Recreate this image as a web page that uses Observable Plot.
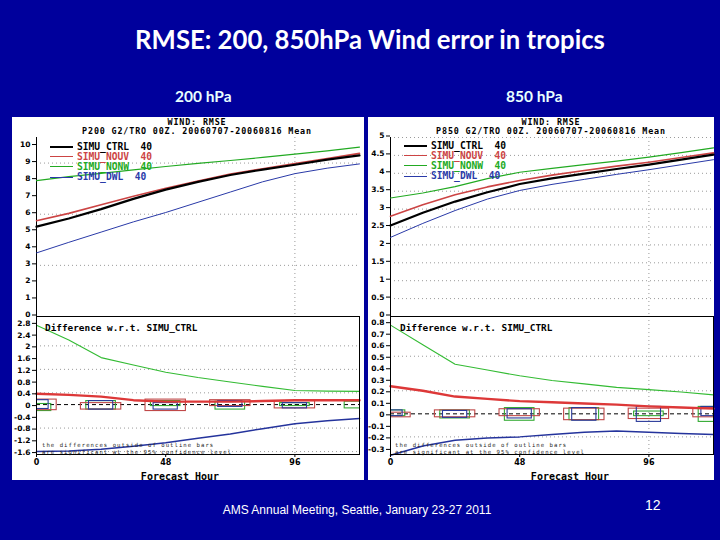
<!DOCTYPE html>
<html><head><meta charset="utf-8">
<script src="https://cdn.jsdelivr.net/npm/d3@7"></script>
<script src="https://cdn.jsdelivr.net/npm/@observablehq/plot@0.6"></script>
<style>
html,body{margin:0;padding:0}
body{width:720px;height:540px;background:#00009c;position:relative;overflow:hidden;font-family:"DejaVu Sans Mono",monospace}
.a{position:absolute;white-space:pre}
#title{left:0;width:740px;top:24px;text-align:center;color:#fff;font:bold 25.7px Lato,sans-serif}
.sub{top:87px;color:#e8ffff;font:bold 15.5px Lato,sans-serif}
.panel{background:#fff;top:117px;height:363px}
.ptitle{font-weight:bold;font-size:8.4px;letter-spacing:0.85px;line-height:1;transform:translateX(-50%)}
.leg{font-size:9.6px;font-weight:bold;line-height:1}
.note{font-size:5.6px;letter-spacing:1.05px;line-height:1;color:#222}
.diff{font-size:9.4px;font-weight:bold;line-height:1}
.fh{font-weight:bold;font-size:10px;line-height:1;transform:translateX(-50%)}
#footer{left:0;width:714px;text-align:center;top:503px;color:#fff;font:12px "Liberation Sans Narrow","Liberation Sans",sans-serif}
#page{left:645px;top:497px;color:#fff;font:14px "Liberation Sans Narrow","Liberation Sans",sans-serif}
.plot{position:absolute}
</style></head>
<body>
<div id="title" class="a">RMSE: 200, 850hPa Wind error in tropics</div>
<div class="a sub" style="left:175px">200 hPa</div>
<div class="a sub" style="left:506px">850 hPa</div>
<div class="a panel" style="left:12px;width:352px"></div>
<div class="a panel" style="left:368px;width:346px"></div>
<div id="overlay"></div>
<div id="footer" class="a">AMS Annual Meeting, Seattle, January 23-27 2011</div>
<div id="page" class="a">12</div>
<script>
// ---------- data ----------
const hours = [0,12,24,36,48,60,72,84,96,108,120];
const seriesNames = ["SIMU_CTRL","SIMU_NOUV","SIMU_NONW","SIMU_DWL"];
const sampleCount = "40";

// 200 hPa RMSE
const ctrl200 = [5.27,5.75,6.3,6.9,7.44,7.9,8.3,8.62,8.9,9.2,9.45];
const nouv200 = [5.62,6.05,6.55,7.05,7.52,7.95,8.35,8.67,8.97,9.27,9.57];
const nonw200 = [7.97,8.2,8.4,8.6,8.8,8.98,9.15,9.33,9.52,9.72,9.94];
const dwl200  = [3.73,4.35,4.95,5.55,6.1,6.7,7.3,7.9,8.38,8.7,8.95];
// 200 hPa difference w.r.t. CTRL
const dNouv200 = [0.37,0.33,0.27,0.15,0.1,0.1,0.1,0.12,0.15,0.15,0.15];
const dNonw200 = [2.7,2.2,1.6,1.35,1.1,0.92,0.77,0.62,0.48,0.46,0.45];
const dDwl200  = [-1.6,-1.58,-1.52,-1.42,-1.3,-1.15,-1.0,-0.82,-0.65,-0.55,-0.47];

// 850 hPa RMSE
const ctrl850 = [2.54,2.9,3.21,3.47,3.7,3.86,3.99,4.12,4.24,4.38,4.52];
const nouv850 = [2.8,3.12,3.4,3.62,3.8,3.95,4.08,4.2,4.31,4.44,4.57];
const nonw850 = [3.31,3.45,3.63,3.85,4.03,4.14,4.24,4.34,4.45,4.58,4.71];
const dwl850  = [2.21,2.6,2.96,3.28,3.52,3.69,3.83,3.97,4.1,4.24,4.38];
// 850 hPa difference w.r.t. CTRL
const dNouv850 = [0.24,0.2,0.15,0.13,0.11,0.1,0.09,0.08,0.065,0.055,0.045];
const dNonw850 = [0.77,0.6,0.43,0.38,0.33,0.29,0.26,0.23,0.21,0.19,0.165];
const dDwl850  = [-0.36,-0.28,-0.23,-0.21,-0.2,-0.18,-0.16,-0.15,-0.16,-0.17,-0.18];

// significance bars (outline boxes) every 24 h
const boxHours = [0,24,48,72,96,120];
const gLo200 = [-0.22,-0.17,-0.05,-0.17,-0.05,-0.13], gHi200 = [0.02,0.12,0.12,0.1,0.05,0.1];
const rLo200 = [-0.19,-0.17,-0.22,-0.05,-0.13,null], rHi200 = [0.17,0.05,0.17,0.15,0.12,null];
const bLo200 = [-0.15,-0.17,-0.17,-0.08,-0.13,null], bHi200 = [0.15,0.12,0.05,0.12,0.05,null];
const gLo850 = [-0.02,-0.04,-0.06,-0.055,-0.02,-0.07], gHi850 = [0.03,0.03,0.05,0.05,0.02,0.06];
const rLo850 = [-0.03,-0.03,-0.02,-0.055,-0.045,-0.03], rHi850 = [0.01,0.03,0.04,0.045,0.045,0.05];
const bLo850 = [-0.02,-0.035,-0.04,-0.06,-0.07,-0.02], bHi850 = [0.03,0.025,0.04,0.05,0.06,0.06];

// axis ticks
const xTicks = [0,48,96];
const yTicksU200 = [0,1,2,3,4,5,6,7,8,9,10];
const yTicksL200 = [-1.6,-1.2,-0.8,-0.4,0,0.4,0.8,1.2,1.6,2,2.4,2.8];
const yTicksU850 = [0,0.5,1,1.5,2,2.5,3,3.5,4,4.5,5];
const yTicksL850 = [-0.3,-0.2,-0.1,0,0.1,0.2,0.3,0.4,0.5,0.6,0.7,0.8];
const gridU200 = [3,6,9], gridL200 = [2,1.2,0.4,-0.8,-1.6];
const gridU850 = [0.5,1,1.5,2,2.5,3,3.5,4,4.5,5], gridL850 = [0.5,0.2,-0.2];
const gridX = [96];

// ---------- styles ----------
const C = {ctrl:"#000000", nouv:"#cc4444", nonw:"#22aa22", dwl:"#2a3aa8"};
const legendColors = [C.ctrl, C.nouv, C.nonw, C.dwl];
const legendWidths = [2.4, 1.4, 1.2, 1];

const rows = arr => hours.map((h,i)=>({hour:h, value:arr[i]}));
const boxes = (lo,hi) => boxHours.map((h,i)=>({hour:h, lo:lo[i], hi:hi[i]})).filter(d=>d.lo!=null);
const fmt = d => String(d);
const gridStyle = {stroke:"#9a9a9a", strokeOpacity:1, strokeDasharray:"1,3", strokeWidth:1};

function upper(o){
  return Plot.plot({
    width:o.width, height:199, marginLeft:o.mL, marginRight:o.mR, marginTop:20, marginBottom:0,
    x:{domain:[0,120], axis:null}, y:{domain:o.yDomain, axis:null},
    style:{background:"transparent", overflow:"visible", fontFamily:"DejaVu Sans", color:"black"},
    marks:[
      Plot.gridY(o.grid, gridStyle),
      Plot.gridX(gridX, gridStyle),
      Plot.ruleX([0], {stroke:"black"}),
      Plot.axisY(o.yTicks, {tickSize:4, tickPadding:2, fontSize:7.5, fontWeight:"bold", tickFormat:fmt, label:null, dy:-1.5}),
      Plot.line(rows(o.dwl), {x:"hour", y:"value", stroke:C.dwl, strokeWidth:1}),
      Plot.line(rows(o.nonw), {x:"hour", y:"value", stroke:C.nonw, strokeWidth:1.2}),
      Plot.line(rows(o.nouv), {x:"hour", y:"value", stroke:C.nouv, strokeWidth:1.6}),
      Plot.line(rows(o.ctrl), {x:"hour", y:"value", stroke:C.ctrl, strokeWidth:2.2}),
    ]
  });
}
function lower(o){
  const bx = (lo,hi,half,color) => Plot.rect(boxes(lo,hi), {x1:d=>d.hour-half, x2:d=>d.hour+half, y1:"lo", y2:"hi", fill:"none", stroke:color, strokeWidth:1.1, clip:true});
  return Plot.plot({
    width:o.width, height:164, marginLeft:o.mL, marginRight:o.mR, marginTop:0, marginBottom:26,
    x:{domain:[0,120], axis:null}, y:{domain:o.yDomain, axis:null},
    style:{background:"transparent", overflow:"visible", fontFamily:"DejaVu Sans", color:"black"},
    marks:[
      Plot.gridY(o.grid, gridStyle),
      Plot.gridX(gridX, gridStyle),
      Plot.ruleY([0], {stroke:"black", strokeDasharray:"4,3"}),
      bx(o.gLo,o.gHi,5.5,"#33aa33"),
      bx(o.rLo,o.rHi,7.5,"#c04848"),
      bx(o.bLo,o.bHi,4.5,"#2a3a9a"),
      Plot.line(rows(o.nonw), {x:"hour", y:"value", stroke:"#33bb33", strokeWidth:1.1}),
      Plot.line(rows(o.nouv), {x:"hour", y:"value", stroke:"#dd3838", strokeWidth:2.4}),
      Plot.line(rows(o.dwl), {x:"hour", y:"value", stroke:"#24339c", strokeWidth:1.5}),
      Plot.frame({stroke:"black"}),
      Plot.axisY(o.yTicks, {tickSize:4, tickPadding:2, fontSize:7.5, fontWeight:"bold", tickFormat:fmt, label:null, dy:1}),
      Plot.axisX(xTicks, {tickSize:3, tickPadding:2, fontSize:8, fontWeight:"bold", tickFormat:fmt, label:null}),
    ]
  });
}
function place(node, left, top, width){
  const d = document.createElement("div");
  d.className = "plot"; d.style.left = left+"px"; d.style.top = top+"px"; d.style.width = width+"px";
  d.appendChild(node); document.getElementById("overlay").appendChild(d);
}
function text(str, cls, left, top, color){
  const d = document.createElement("div");
  d.className = "a "+cls; d.textContent = str; d.style.left = left+"px"; d.style.top = top+"px";
  if (color) d.style.color = color;
  document.getElementById("overlay").appendChild(d);
}
function legend(lineX, textX, top){
  seriesNames.forEach((n,i)=>{
    const l = document.createElement("div");
    l.className = "a";
    const w = legendWidths[i];
    Object.assign(l.style, {left:lineX+"px", top:(top+10*i - w/2)+"px", width:"23px", height:"0px", borderTop:w+"px solid "+legendColors[i]});
    document.getElementById("overlay").appendChild(l);
    text(n+"  "+sampleCount, "leg", textX, top+10*i-5, legendColors[i]);
  });
}

// ---------- 200 hPa ----------
place(upper({width:352, mL:24, mR:5, yDomain:[0,10.5], yTicks:yTicksU200, grid:gridU200,
  ctrl:ctrl200, nouv:nouv200, nonw:nonw200, dwl:dwl200}), 12, 117, 352);
place(lower({width:352, mL:24, mR:5, yDomain:[-1.7,3.0], yTicks:yTicksL200, grid:gridL200,
  nouv:dNouv200, nonw:dNonw200, dwl:dDwl200,
  gLo:gLo200,gHi:gHi200,rLo:rLo200,rHi:rHi200,bLo:bLo200,bHi:bHi200}), 12, 316, 352);
text("WIND: RMSE", "ptitle", 197, 117.5);
text("P200 G2/TRO 00Z. 20060707-20060816 Mean", "ptitle", 197, 127);
legend(50, 77, 147);
text("Difference w.r.t. SIMU_CTRL", "diff", 45, 323);
text("the differences outside of outline bars", "note", 42, 443);
text("are significant at the 95% confidence level", "note", 42, 450);
text("Forecast Hour", "fh", 180, 472);

// ---------- 850 hPa ----------
place(upper({width:346, mL:22, mR:1, yDomain:[0,5], yTicks:yTicksU850, grid:gridU850,
  ctrl:ctrl850, nouv:nouv850, nonw:nonw850, dwl:dwl850}), 368, 117, 346);
place(lower({width:346, mL:22, mR:1, yDomain:[-0.353,0.845], yTicks:yTicksL850, grid:gridL850,
  nouv:dNouv850, nonw:dNonw850, dwl:dDwl850,
  gLo:gLo850,gHi:gHi850,rLo:rLo850,rHi:rHi850,bLo:bLo850,bHi:bHi850}), 368, 316, 346);
text("WIND: RMSE", "ptitle", 551, 117.5);
text("P850 G2/TRO 00Z. 20060707-20060816 Mean", "ptitle", 551, 127);
legend(404, 431, 146);
text("Difference w.r.t. SIMU_CTRL", "diff", 400, 323);
text("the differences outside of outline bars", "note", 395, 443);
text("are significant at the 95% confidence level", "note", 395, 450);
text("Forecast Hour", "fh", 570, 472);
</script>
</body></html>
